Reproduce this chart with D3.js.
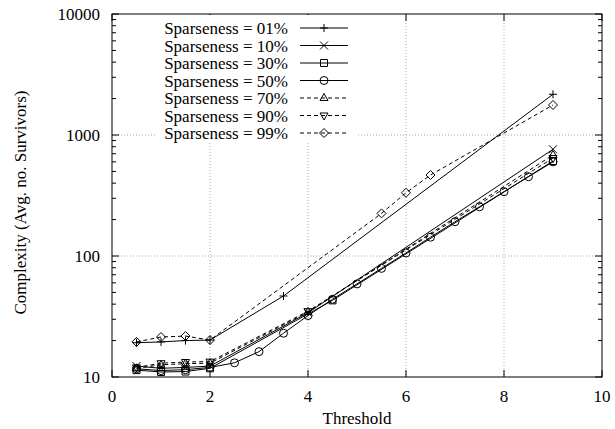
<!DOCTYPE html>
<meta charset="utf-8">
<style>
body { margin: 0; background: white; }
text { font-family: "Liberation Serif", "DejaVu Serif", "Times New Roman", Times, serif; font-size: 17px; fill: black; }
.grid { stroke: #aaa; stroke-width: 1; stroke-dasharray: 1,2; }
.tick { stroke: black; stroke-width: 1; }
.serie { fill: none; stroke: black; stroke-width: 1; }
.marker { fill: none; stroke: black; stroke-width: 1; }
</style>
<svg id="chart" width="615" height="429"></svg>
<script src="https://cdn.jsdelivr.net/npm/d3@7"></script>
<script>

// values
const labels = ["Sparseness = 01%", "Sparseness = 10%", "Sparseness = 30%", "Sparseness = 50%",
                "Sparseness = 70%", "Sparseness = 90%", "Sparseness = 99%"]

const x01 = [0.5, 1, 1.5, 2, 3.5, 9]
const y01 = [19.2, 19.5, 20.0, 20.2, 46.7, 2170]
const x10 = [0.5, 1, 1.5, 2, 4, 9]
const y10 = [12.3, 11.8, 12.0, 12.3, 34, 762]
const x30 = [0.5, 1, 1.5, 2, 4.5, 9]
const y30 = [11.4, 11.0, 11.1, 11.8, 43, 610]
const x50 = [0.5, 1, 1.5, 2, 2.5, 3, 3.5, 4, 4.5, 5, 5.5, 6, 6.5, 7, 7.5, 8, 8.5, 9]
const y50 = [11.7, 11.3, 11.5, 12.0, 13.1, 16.2, 23, 32.2, 43.9, 58.8, 79, 106, 143, 192, 255, 340, 452, 600]
const x70 = [0.5, 1, 1.5, 2, 4, 9]
const y70 = [11.8, 12.6, 12.9, 13.0, 34.5, 684]
const x90 = [0.5, 1, 1.5, 2, 4, 9]
const y90 = [12.0, 13.0, 13.3, 13.4, 35, 645]
const x99 = [0.5, 1, 1.5, 2, 5.5, 6, 6.5, 9]
const y99 = [19.5, 21.4, 21.8, 20.2, 225, 333, 467, 1770]

const xTicks = [0, 2, 4, 6, 8, 10]
const yTicks = [10, 100, 1000, 10000]

const allX = [x01, x10, x30, x50, x70, x90, x99]
const allY = [y01, y10, y30, y50, y70, y90, y99]
const dashed = [false, false, false, false, true, true, true]
const shapes = ["plus", "cross", "square", "circle", "tri", "itri", "diamond"]

const margin = {top: 14, right: 13, bottom: 52, left: 112},
    width = 615 - margin.left - margin.right,
    height = 429 - margin.top - margin.bottom

const svg = d3.select("#chart")
const g = svg.append("g")
    .attr("transform", `translate(${margin.left}, ${margin.top})`)

const x = d3.scaleLinear().domain([0, 10]).range([0, width])
const y = d3.scaleLog().domain([10, 10000]).range([height, 0])

//grid
g.selectAll(".gx").data([2, 4, 6, 8]).enter().append("line")
    .attr("class", "grid")
    .attr("x1", d => x(d)).attr("x2", d => x(d))
    .attr("y1", 0).attr("y2", height)
g.selectAll(".gy").data([100, 1000]).enter().append("line")
    .attr("class", "grid")
    .attr("x1", 0).attr("x2", width)
    .attr("y1", d => y(d)).attr("y2", d => y(d))

//ticks on all four sides, inward
const major = 7, minor = 4
xTicks.forEach(t => {
  g.append("line").attr("class", "tick")
    .attr("x1", x(t)).attr("x2", x(t)).attr("y1", height).attr("y2", height - major)
  g.append("line").attr("class", "tick")
    .attr("x1", x(t)).attr("x2", x(t)).attr("y1", 0).attr("y2", major)
  g.append("text")
    .attr("x", x(t)).attr("y", height + 25)
    .attr("text-anchor", "middle")
    .text(t)
})
yTicks.forEach(t => {
  g.append("line").attr("class", "tick")
    .attr("x1", 0).attr("x2", major).attr("y1", y(t)).attr("y2", y(t))
  g.append("line").attr("class", "tick")
    .attr("x1", width).attr("x2", width - major).attr("y1", y(t)).attr("y2", y(t))
  g.append("text")
    .attr("x", -12).attr("y", y(t) + 6)
    .attr("text-anchor", "end")
    .text(t)
})
y.ticks().filter(t => !yTicks.includes(t)).forEach(t => {
  g.append("line").attr("class", "tick")
    .attr("x1", 0).attr("x2", minor).attr("y1", y(t)).attr("y2", y(t))
  g.append("line").attr("class", "tick")
    .attr("x1", width).attr("x2", width - minor).attr("y1", y(t)).attr("y2", y(t))
})

//axis titles
g.append("text")
    .attr("x", width / 2).attr("y", height + 47)
    .attr("text-anchor", "middle")
    .text("Threshold")
svg.append("text")
    .attr("transform", `translate(26, ${margin.top + height / 2 + 7}) rotate(-90)`)
    .attr("text-anchor", "middle")
    .text("Complexity (Avg. no. Survivors)")

//marker paths
function markerPath(shape, cx, cy) {
  const s = 4
  switch (shape) {
    case "plus": return `M${cx - s},${cy}H${cx + s}M${cx},${cy - s}V${cy + s}`
    case "cross": return `M${cx - s},${cy - s}L${cx + s},${cy + s}M${cx - s},${cy + s}L${cx + s},${cy - s}`
    case "square": return `M${cx - 3.5},${cy - 3.5}h7v7h-7Z`
    case "circle": return `M${cx + 4},${cy}A4,4 0 1,1 ${cx - 4},${cy}A4,4 0 1,1 ${cx + 4},${cy}`
    case "tri": return `M${cx},${cy - 4.5}L${cx + 4},${cy + 2.5}L${cx - 4},${cy + 2.5}Z`
    case "itri": return `M${cx},${cy + 4.5}L${cx + 4},${cy - 2.5}L${cx - 4},${cy - 2.5}Z`
    case "diamond": return `M${cx},${cy - 4.5}L${cx + 4.5},${cy}L${cx},${cy + 4.5}L${cx - 4.5},${cy}Z`
  }
}

const line = d3.line()

//legend with opaque background
g.append("rect")
    .attr("x", 43).attr("y", 1).attr("width", 203).attr("height", 126)
    .attr("fill", "white")

//series
allX.forEach((xs, i) => {
  const pts = xs.map((d, j) => [x(d), y(allY[i][j])])
  g.append("path")
      .attr("class", "serie")
      .attr("stroke-dasharray", dashed[i] ? "4,3" : null)
      .attr("d", line(pts))
  pts.forEach(p => {
    g.append("path").attr("class", "marker").attr("d", markerPath(shapes[i], p[0], p[1]))
  })
})

//legend entries
labels.forEach((lab, i) => {
  const ly = 14 + i * 17.5
  g.append("text")
      .attr("x", 176).attr("y", ly + 6)
      .attr("text-anchor", "end")
      .text(lab)
  g.append("line")
      .attr("class", "serie")
      .attr("stroke-dasharray", dashed[i] ? "4,3" : null)
      .attr("x1", 188).attr("x2", 236).attr("y1", ly).attr("y2", ly)
  g.append("path").attr("class", "marker").attr("d", markerPath(shapes[i], 212, ly))
})

//frame
g.append("rect")
    .attr("width", width).attr("height", height)
    .attr("fill", "none").attr("stroke", "black").attr("stroke-width", 1)

</script>
